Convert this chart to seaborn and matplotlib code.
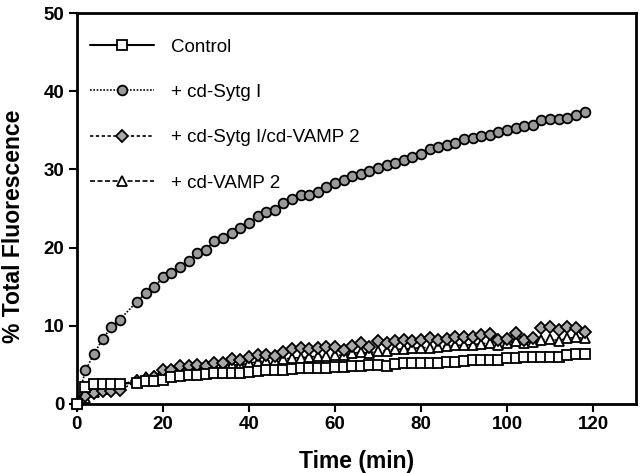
import matplotlib
matplotlib.use("Agg")
import matplotlib.pyplot as plt
import seaborn as sns

# tiempos (min)
tiempo = [0, 2, 4, 6, 8, 10,
          14, 16, 18, 20, 22, 24, 26, 28, 30, 32, 34, 36, 38, 40,
          42, 44, 46, 48, 50, 52, 54, 56, 58, 60, 62, 64, 66, 68,
          70, 72, 74, 76, 78, 80, 82, 84, 86, 88, 90, 92, 94, 96,
          98, 100, 102, 104, 106, 108, 110, 112, 114, 116, 118]

control = [0.0, 2.2, 2.6, 2.6, 2.6, 2.6,
           2.7, 2.9, 2.9, 3.1, 3.5, 3.6, 3.7, 3.7, 3.8, 3.9, 3.9, 4.0, 4.0, 4.05,
           4.2, 4.3, 4.35, 4.4, 4.5, 4.6, 4.65, 4.65, 4.65, 4.7, 4.7, 4.85, 4.85, 5.0,
           5.0, 4.9, 5.1, 5.2, 5.2, 5.2, 5.3, 5.3, 5.4, 5.4, 5.55, 5.6, 5.6, 5.6,
           5.6, 5.85, 5.85, 6.0, 6.0, 6.0, 6.05, 6.05, 6.3, 6.4, 6.4]

sytg = [0.0, 4.3, 6.4, 8.3, 9.8, 10.8,
        13.1, 14.2, 14.9, 16.2, 16.8, 17.5, 18.3, 19.3, 19.7, 20.9, 21.2, 21.8, 22.5, 23.1,
        24.0, 24.6, 24.8, 25.7, 26.2, 26.7, 26.7, 27.1, 27.7, 28.2, 28.6, 29.1, 29.4, 29.8,
        30.2, 30.6, 30.8, 31.2, 31.6, 32.0, 32.6, 32.8, 33.1, 33.4, 33.9, 34.0, 34.3, 34.4,
        34.8, 35.0, 35.3, 35.6, 35.7, 36.3, 36.4, 36.4, 36.6, 36.9, 37.3]

sytg_vamp = [0.0, 1.0, 1.4, 1.6, 1.7, 1.8,
             2.9, 3.2, 3.5, 4.4, 4.35, 4.8, 4.9, 5.0, 4.9, 5.2, 5.2, 5.7, 5.6, 6.0,
             6.2, 6.3, 6.1, 6.7, 7.0, 7.1, 7.0, 7.1, 7.25, 7.3, 6.9, 7.4, 7.8, 7.25,
             8.0, 7.8, 8.0, 8.2, 8.1, 8.2, 8.4, 8.2, 8.3, 8.5, 8.6, 8.6, 8.8, 8.95,
             8.2, 8.3, 9.1, 8.2, 8.4, 9.7, 9.9, 9.5, 9.8, 9.7, 9.25]

vamp = [0.0, 0.8, 1.5, 1.9, 2.2, 2.4,
        3.1, 3.4, 3.6, 3.9, 4.0, 4.2, 4.3, 4.5, 4.5, 4.7, 4.8, 5.0, 5.0, 5.2,
        5.4, 5.5, 5.5, 5.7, 5.9, 5.9, 6.0, 6.1, 6.1, 6.3, 6.2, 6.5, 6.6, 6.5,
        6.8, 6.8, 7.0, 7.0, 7.1, 7.2, 7.2, 7.3, 7.4, 7.5, 7.5, 7.6, 7.7, 7.8,
        7.6, 7.8, 8.0, 7.8, 7.9, 8.2, 8.3, 8.1, 8.4, 8.5, 8.4]

etiquetas = ['Control', '+ cd-Sytg I', '+ cd-Sytg I/cd-VAMP 2', '+ cd-VAMP 2']

sns.set_style('ticks', {'axes.edgecolor': 'black', 'text.color': 'black',
                        'axes.labelcolor': 'black', 'xtick.color': 'black',
                        'ytick.color': 'black'})
plt.rcParams['font.family'] = ['Liberation Sans', 'DejaVu Sans']

fig = plt.figure(figsize=(6.4, 4.73), dpi=100)
ax = fig.add_axes([0.120, 0.146, 0.874, 0.8265])

comun = dict(color='black', markeredgecolor='black', markeredgewidth=1.3, clip_on=False)

sns.lineplot(x=tiempo, y=control, ax=ax, marker='s', markersize=7.5,
             markerfacecolor='white', linestyle='-', linewidth=1.5,
             label=etiquetas[0], zorder=6, **comun)
sns.lineplot(x=tiempo, y=sytg, ax=ax, marker='o', markersize=7,
             markerfacecolor='#9a9a9a', linestyle=(0, (1, 1)), linewidth=1.2,
             label=etiquetas[1], zorder=5, **comun)
sns.lineplot(x=tiempo, y=sytg_vamp, ax=ax, marker='D', markersize=6.5,
             markerfacecolor='#a8a8a8', linestyle=(0, (2, 1.5)), linewidth=1.2,
             label=etiquetas[2], zorder=4, **comun)
sns.lineplot(x=tiempo, y=vamp, ax=ax, marker='^', markersize=7.5,
             markerfacecolor='white', linestyle=(0, (3, 1.5)), linewidth=1.2,
             label=etiquetas[3], zorder=3, **comun)

ax.set_xlim(0, 130)
ax.set_ylim(0, 50)
ax.set_xticks([0, 20, 40, 60, 80, 100, 120])
ax.set_yticks([0, 10, 20, 30, 40, 50])
ax.tick_params(axis='both', direction='out', length=6, width=1.5,
               labelsize=13.5, pad=3, colors='black')
for lab in ax.get_xticklabels() + ax.get_yticklabels():
    lab.set_fontweight('bold')
for sp in ax.spines.values():
    sp.set_visible(True)
    sp.set_linewidth(2)
    sp.set_color('black')
ax.grid(False)

ax.set_xlabel('Time (min)', fontsize=16.5, fontweight='bold', labelpad=12, color='black')
ax.set_ylabel('% Total Fluorescence', fontsize=16.5, fontweight='bold', color='black')
ax.yaxis.set_label_coords(-0.093, 0.455)

leg = ax.legend(loc='upper left', bbox_to_anchor=(0.0, 0.968), frameon=False,
                fontsize=13.5, handlelength=3.4, handletextpad=0.9, labelspacing=1.5,
                borderaxespad=0.3)
for t in leg.get_texts():
    t.set_color('black')

fig.savefig('out.png', dpi=100)
